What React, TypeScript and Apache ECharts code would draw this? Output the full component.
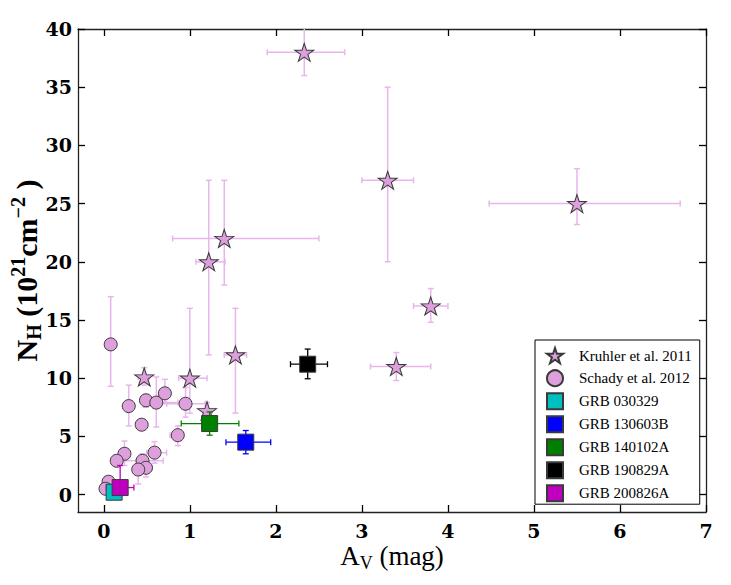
import React, { useEffect, useRef } from 'react';
import * as echarts from 'echarts';

const X_MIN = -0.3;
const X_MAX = 7;
const Y_MIN = -1.5;
const Y_MAX = 40;
const xTicks = [0, 1, 2, 3, 4, 5, 6, 7];
const yTicks = [0, 5, 10, 15, 20, 25, 30, 35, 40];

// [A_V, N_H, A_V low, A_V high, N_H low, N_H high]
const kruhler = [
  [2.33, 38.0, 1.9, 2.8, 36.0, 42.0],
  [3.3, 27.0, 3.0, 3.6, 20.0, 35.0],
  [5.5, 25.0, 4.48, 6.7, 23.2, 28.0],
  [1.4, 22.0, 0.8, 2.5, 18.0, 27.0],
  [1.22, 20.0, 1.07, 1.41, 12.0, 27.0],
  [3.8, 16.2, 3.6, 4.0, 14.8, 17.7],
  [3.4, 11.0, 3.1, 3.8, 9.8, 12.2],
  [1.53, 12.0, 1.4, 1.66, 7.0, 16.0],
  [1.0, 10.0, 0.87, 1.2, 7.0, 16.0],
  [0.47, 10.1, 0.4, 0.53, 9.4, 10.9],
  [1.2, 7.2, 1.15, 1.26, 6.5, 7.9],
];

const schady = [
  [0.08, 12.9, 0.08, 0.08, 9.3, 17.0],
  [0.29, 7.6, 0.25, 0.33, 5.9, 9.4],
  [0.49, 8.1, 0.43, 0.56, 7.5, 8.6],
  [0.61, 7.9, 0.55, 0.86, 5.8, 10.1],
  [0.71, 8.7, 0.66, 0.77, 7.8, 9.9],
  [0.95, 7.8, 0.73, 1.18, 6.65, 9.2],
  [0.44, 6.0, 0.44, 0.44, 5.6, 6.3],
  [0.86, 5.1, 0.77, 0.92, 4.2, 5.9],
  [0.24, 3.5, 0.2, 0.28, 2.5, 4.6],
  [0.15, 2.9, 0.12, 0.18, 2.5, 3.3],
  [0.59, 3.6, 0.5, 0.73, 2.7, 4.55],
  [0.45, 2.9, 0.24, 0.69, 2.4, 3.5],
  [0.49, 2.3, 0.42, 0.56, 1.5, 3.0],
  [0.4, 2.15, 0.35, 0.44, 0.9, 3.0],
  [0.055, 1.1, 0.055, 0.055, 0.8, 1.4],
  [0.02, 0.5, 0.02, 0.02, 0.3, 0.7],
];

const grbNames = ['GRB 030329', 'GRB 130603B', 'GRB 140102A', 'GRB 190829A', 'GRB 200826A'];
const grbColors = ['#00bfbf', '#0000ff', '#008000', '#000000', '#bf00bf'];
const grbData = [
  [0.12, 0.2, 0.08, 0.16, 0.0, 0.4],
  [1.65, 4.5, 1.42, 1.94, 3.5, 5.5],
  [1.23, 6.1, 0.9, 1.57, 5.1, 7.1],
  [2.37, 11.2, 2.17, 2.6, 9.95, 12.5],
  [0.19, 0.6, 0.03, 0.35, 0.0, 2.5],
];

const seriesNames = ['Kruhler et al. 2011', 'Schady et al. 2012'];

const STAR =
  'path://M0,-1L0.2245,-0.309L0.951,-0.309L0.363,0.118L0.588,0.809L0,0.382L-0.588,0.809L-0.363,0.118L-0.951,-0.309L-0.2245,-0.309Z';

const PINK = '#dda0dd';
const ERR_PINK = '#e8b6ec';
const EDGE = '#3a3a3a';
const SERIF = '"Liberation Serif", "Times New Roman", serif';

function errorBars(color: string, width: number, cap: number) {
  return (_params: any, api: any) => {
    const x = api.value(0);
    const y = api.value(1);
    const xl = api.value(2);
    const xh = api.value(3);
    const yl = api.value(4);
    const yh = api.value(5);
    const style = { stroke: color, lineWidth: width, fill: 'none' };
    const ch: any[] = [];
    const seg = (p1: number[], p2: number[]) =>
      ch.push({ type: 'line', shape: { x1: p1[0], y1: p1[1], x2: p2[0], y2: p2[1] }, style });
    if (xh > xl) {
      const a = api.coord([Math.max(xl, X_MIN), y]);
      const b = api.coord([Math.min(xh, X_MAX), y]);
      seg(a, b);
      if (xl >= X_MIN) seg([a[0], a[1] - cap], [a[0], a[1] + cap]);
      if (xh <= X_MAX) seg([b[0], b[1] - cap], [b[0], b[1] + cap]);
    }
    if (yh > yl) {
      const a = api.coord([x, Math.max(yl, Y_MIN)]);
      const b = api.coord([x, Math.min(yh, Y_MAX)]);
      seg(a, b);
      if (yl >= Y_MIN) seg([a[0] - cap, a[1]], [a[0] + cap, a[1]]);
      if (yh <= Y_MAX) seg([b[0] - cap, b[1]], [b[0] + cap, b[1]]);
    }
    return { type: 'group', children: ch };
  };
}

const tickFont = { fontFamily: 'DejaVu Serif', fontWeight: 'bold' as const, fontSize: 19, color: '#000' };

function makeAxis(position: string, isX: boolean, ticks: number[], showLabel: boolean, extra: any = {}) {
  return {
    type: 'value',
    position,
    min: isX ? X_MIN : Y_MIN,
    max: isX ? X_MAX : Y_MAX,
    axisLine: { show: true, onZero: false, lineStyle: { color: '#222', width: 1.3 } },
    axisTick: { show: true, inside: true, length: 7, customValues: ticks, lineStyle: { color: '#000', width: 1.3 } },
    axisLabel: showLabel ? { show: true, customValues: ticks, margin: isX ? 9 : 6, ...tickFont } : { show: false },
    splitLine: { show: false },
    ...extra,
  };
}

export default function App() {
  const ref = useRef<HTMLDivElement>(null);
  useEffect(() => {
    if (!ref.current) return;
    const chart = echarts.init(ref.current, undefined, { renderer: 'svg' });

    const series: any[] = [
      {
        type: 'custom',
        name: 'kruhler-err',
        renderItem: errorBars(ERR_PINK, 1.5, 3),
        data: kruhler,
        encode: { x: [0, 2, 3], y: [1, 4, 5] },
        z: 1,
        silent: true,
      },
      {
        type: 'custom',
        name: 'schady-err',
        renderItem: errorBars(ERR_PINK, 1.5, 3),
        data: schady,
        encode: { x: [0, 2, 3], y: [1, 4, 5] },
        z: 1,
        silent: true,
      },
      {
        type: 'scatter',
        name: seriesNames[0],
        symbol: STAR,
        symbolSize: [19, 18],
        data: kruhler.map((d) => [d[0], d[1]]),
        itemStyle: { color: PINK, borderColor: EDGE, borderWidth: 1, opacity: 1 },
        z: 2,
      },
      {
        type: 'scatter',
        name: seriesNames[1],
        symbol: 'circle',
        symbolSize: 13,
        data: schady.map((d) => [d[0], d[1]]),
        itemStyle: { color: PINK, borderColor: EDGE, borderWidth: 1, opacity: 1 },
        z: 2,
      },
    ];
    grbNames.forEach((n, i) => {
      series.push({
        type: 'custom',
        name: n + '-err',
        renderItem: errorBars(grbColors[i], 1.3, 3),
        data: [grbData[i]],
        encode: { x: [0, 2, 3], y: [1, 4, 5] },
        z: 3,
        silent: true,
      });
      series.push({
        type: 'scatter',
        name: n,
        symbol: 'rect',
        symbolSize: 16,
        data: [[grbData[i][0], grbData[i][1]]],
        itemStyle: { color: grbColors[i], borderColor: EDGE, borderWidth: 1, opacity: 1 },
        z: 4,
      });
    });

    const legendNames = [...seriesNames, ...grbNames];

    chart.setOption({
      animation: false,
      backgroundColor: '#fff',
      grid: { left: 78, right: 25, top: 29, bottom: 73, containLabel: false, outerBoundsMode: 'none' },
      xAxis: [
        makeAxis('bottom', true, xTicks, true, {
          name: '{a|A}{s|V}{a| (mag)}',
          nameLocation: 'middle',
          nameGap: 28,
          nameMoveOverlap: false,
          nameTextStyle: {
            color: '#000',
            rich: {
              a: { fontFamily: SERIF, fontSize: 27, lineHeight: 32, color: '#000' },
              s: { fontFamily: SERIF, fontSize: 18, lineHeight: 18, verticalAlign: 'bottom', color: '#000' },
            },
          },
        }),
        makeAxis('top', true, xTicks, false),
      ],
      yAxis: [
        makeAxis('left', false, yTicks, true, {
          name: '{b|N}{sub|H}{b| (10}{sup|21}{b|cm}{sup|−2}{b| )}',
          nameLocation: 'middle',
          nameGap: 34,
          nameMoveOverlap: false,
          nameTextStyle: {
            color: '#000',
            rich: {
              b: { fontFamily: SERIF, fontWeight: 'bold', fontSize: 30, lineHeight: 36, color: '#000' },
              sub: { fontFamily: SERIF, fontWeight: 'bold', fontSize: 20, lineHeight: 19, verticalAlign: 'bottom', color: '#000' },
              sup: { fontFamily: SERIF, fontWeight: 'bold', fontSize: 20, lineHeight: 19, verticalAlign: 'top', color: '#000' },
            },
          },
        }),
        makeAxis('right', false, yTicks, false),
      ],
      legend: {
        data: legendNames.map((n, i) => ({ name: n, icon: i === 0 ? STAR : i === 1 ? 'circle' : 'rect' })),
        orient: 'vertical',
        left: 535,
        top: 340,
        padding: [7, 8, 2, 11],
        itemGap: 5,
        itemWidth: 16,
        itemHeight: 16,
        borderColor: '#000',
        borderWidth: 1,
        backgroundColor: '#fff',
        selectedMode: false,
        textStyle: { fontFamily: SERIF, fontSize: 15, color: '#000', padding: [0, 0, 0, 11] },
      },
      series,
    });
    return () => chart.dispose();
  }, []);
  return <div ref={ref} style={{ position: 'absolute', left: 0, top: 0, width: 731, height: 585 }} />;
}
